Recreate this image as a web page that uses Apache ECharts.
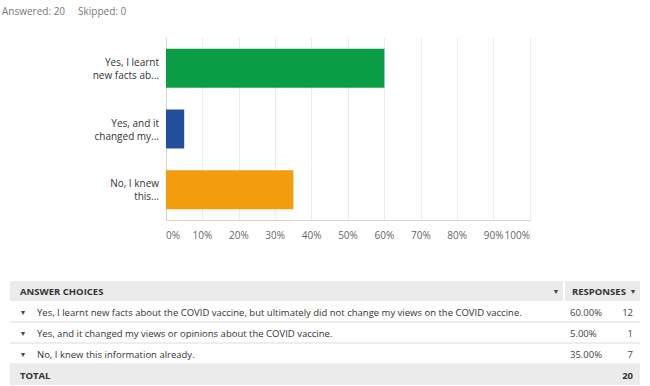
<!DOCTYPE html>
<html><head><meta charset="utf-8">
<script src="https://cdn.jsdelivr.net/npm/echarts@6/dist/echarts.min.js"></script>
<style>html,body{margin:0;padding:0;background:#fff}#c{width:650px;height:386px}</style>
</head><body><div id="c"></div>
<script>
const categories = ["Yes, I learnt\nnew facts ab...", "Yes, and it\nchanged my...", "No, I knew\nthis..."];
const fullChoices = [
  "Yes, I learnt new facts about the COVID vaccine, but ultimately did not change my views on the COVID vaccine.",
  "Yes, and it changed my views or opinions about the COVID vaccine.",
  "No, I knew this information already."
];
const percentages = [60, 5, 35];
const counts = [12, 1, 7];
const barColors = ["#0b9d45", "#224e9b", "#f39c0d"];
const tickLabels = ["0%","10%","20%","30%","40%","50%","60%","70%","80%","90%","100%"];
const answered = 20, skipped = 0, total = 20;

const chart = echarts.init(document.getElementById('c'), null, {renderer: 'svg'});
const F = "'Open Sans', sans-serif";
const graphic = [];
graphic.push({type:'text', left:2, top:6, style:{text:'Answered: ' + answered + '     Skipped: ' + skipped, font:'10px ' + F, fill:'#777'}});
// table header
graphic.push({type:'rect', shape:{x:10,y:281,width:553,height:20}, style:{fill:'#ebebeb'}});
graphic.push({type:'rect', shape:{x:565,y:281,width:75,height:20}, style:{fill:'#ebebeb'}});
graphic.push({type:'text', x:20, y:291, style:{text:'ANSWER CHOICES', font:'bold 9.5px ' + F, fill:'#333', textVerticalAlign:'middle'}});
graphic.push({type:'text', x:556, y:291, style:{text:'▼', font:'7px ' + F, fill:'#444', textAlign:'center', textVerticalAlign:'middle'}});
graphic.push({type:'text', x:572, y:291, style:{text:'RESPONSES', font:'bold 9.5px ' + F, fill:'#333', textVerticalAlign:'middle'}});
graphic.push({type:'text', x:633, y:291, style:{text:'▼', font:'7px ' + F, fill:'#444', textAlign:'center', textVerticalAlign:'middle'}});
fullChoices.forEach((t, i) => {
  const y0 = 301 + i * 21;
  const cy = y0 + 11;
  graphic.push({type:'text', x:23, y:cy, style:{text:'▼', font:'7px ' + F, fill:'#444', textAlign:'center', textVerticalAlign:'middle'}});
  graphic.push({type:'text', x:37, y:cy, style:{text:t, font:'9.5px ' + F, fill:'#333', textVerticalAlign:'middle'}});
  graphic.push({type:'text', x:570, y:cy, style:{text:percentages[i].toFixed(2) + '%', font:'9.5px ' + F, fill:'#444', textVerticalAlign:'middle'}});
  graphic.push({type:'text', x:633, y:cy, style:{text:String(counts[i]), font:'9.5px ' + F, fill:'#444', textAlign:'right', textVerticalAlign:'middle'}});
  graphic.push({type:'line', shape:{x1:10,y1:y0+21,x2:640,y2:y0+21}, style:{stroke:'#dcdcdc', lineWidth:1}});
});
graphic.push({type:'rect', shape:{x:10,y:364,width:630,height:21}, style:{fill:'#ebebeb'}});
graphic.push({type:'text', x:20, y:375, style:{text:'TOTAL', font:'bold 9.5px ' + F, fill:'#333', textVerticalAlign:'middle'}});
graphic.push({type:'text', x:633, y:375, style:{text:String(total), font:'bold 9.5px ' + F, fill:'#333', textAlign:'right', textVerticalAlign:'middle'}});

chart.setOption({
  animation: false,
  grid: {left:166, right:120, top:38, bottom:166, containLabel:false},
  xAxis: {
    type:'value', min:0, max:100, interval:10,
    axisLine:{show:true, lineStyle:{color:'#d4d4d4'}}, axisTick:{show:false},
    splitLine:{show:true, lineStyle:{color:'#ececec'}},
    axisLabel:{formatter:(v)=>tickLabels[Math.round(v/10)], color:'#666', fontSize:10, fontFamily:F, margin:10,
               alignMinLabel:'left', alignMaxLabel:'right'}
  },
  yAxis: {
    type:'category', data:categories, inverse:true,
    axisLine:{show:true, lineStyle:{color:'#d4d4d4'}}, axisTick:{show:false},
    axisLabel:{color:'#333', fontSize:10, fontFamily:F, lineHeight:13, margin:7}
  },
  series: [{
    type:'bar', barWidth:39,
    data: percentages.map((v,i)=>({value:v, itemStyle:{color:barColors[i]}}))
  }],
  graphic: graphic
});
</script></body></html>
